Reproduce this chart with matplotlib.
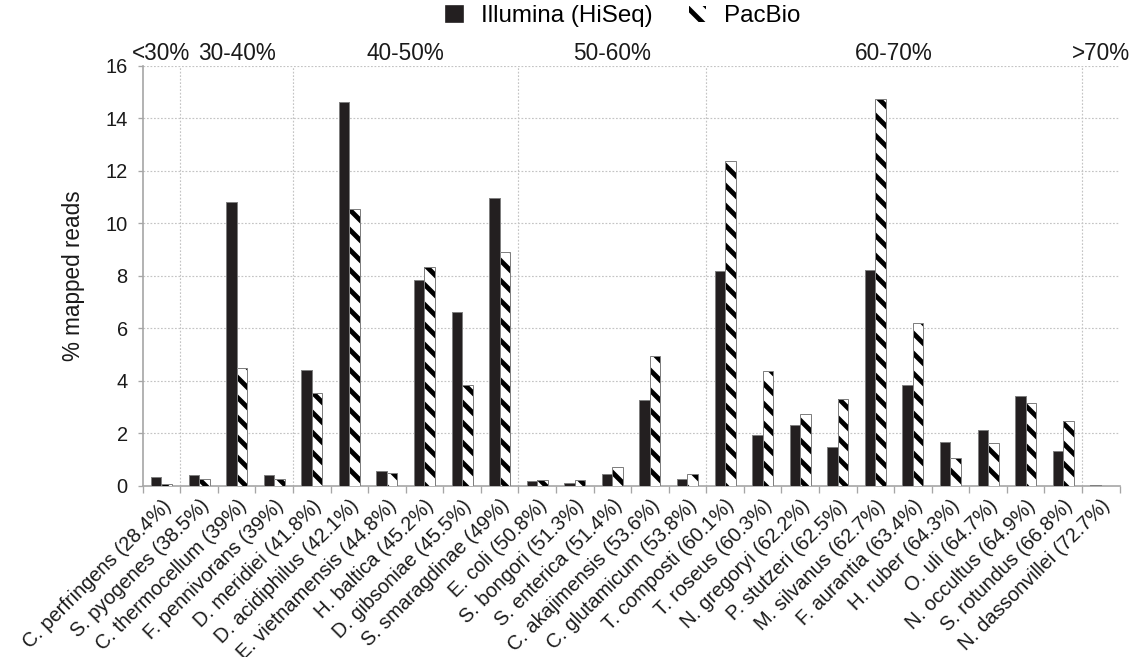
import numpy as np
import matplotlib
matplotlib.use("Agg")
import matplotlib.pyplot as plt
from matplotlib.patches import Patch

plt.rcParams['font.family'] = ['Liberation Sans', 'DejaVu Sans']
plt.rcParams['hatch.linewidth'] = 2.9

species = ["C. perfringens (28.4%)", "S. pyogenes (38.5%)", "C. thermocellum (39%)",
           "F. pennivorans (39%)", "D. meridiei (41.8%)", "D. acidiphilus (42.1%)",
           "E. vietnamensis (44.8%)", "H. baltica (45.2%)", "D. gibsoniae (45.5%)",
           "S. smaragdinae (49%)", "E. coli (50.8%)", "S. bongori (51.3%)",
           "S. enterica (51.4%)", "C. akajimensis (53.6%)", "C. glutamicum (53.8%)",
           "T. composti (60.1%)", "T. roseus (60.3%)", "N. gregoryi (62.2%)",
           "P. stutzeri (62.5%)", "M. silvanus (62.7%)", "F. aurantia (63.4%)",
           "H. ruber (64.3%)", "O. uli (64.7%)", "N. occultus (64.9%)",
           "S. rotundus (66.8%)", "N. dassonvillei (72.7%)"]
illumina = [0.35, 0.41, 10.83, 0.41, 4.41, 14.61, 0.56, 7.86, 6.64, 10.98,
            0.18, 0.13, 0.47, 3.27, 0.28, 8.18, 1.96, 2.34, 1.48, 8.24,
            3.85, 1.67, 2.15, 3.41, 1.33, 0.02]
pacbio = [0.09, 0.28, 4.49, 0.28, 3.55, 10.57, 0.51, 8.34, 3.85, 8.92,
          0.24, 0.24, 0.72, 4.97, 0.47, 12.37, 4.38, 2.75, 3.32, 14.76,
          6.21, 1.05, 1.63, 3.18, 2.46, 0.01]
gc_groups = ["<30%", "30-40%", "40-50%", "50-60%", "60-70%", ">70%"]
group_sizes = [1, 3, 6, 5, 10, 1]

dark = '#231f20'
grey = '#a6a6a6'
txt = '#1a1a1a'

fig = plt.figure(figsize=(1146 / 120, 657 / 120), dpi=120)
ax = fig.add_axes([0.1245, 0.2603, 0.8524, 0.6393])

x = np.arange(len(species))
w = 0.28
ax.bar(x - w / 2, illumina, w, color=dark, edgecolor='#7f7f7f', linewidth=0.6, zorder=3)
# hatch drawn in black, outline in grey on top
ax.bar(x + w / 2, pacbio, w, color='white', edgecolor='black', hatch='\\\\',
       linewidth=0, zorder=3)
ax.bar(x + w / 2, pacbio, w, fill=False, edgecolor='#7f7f7f', linewidth=0.6, zorder=4)

ax.set_xlim(-0.5, len(species) - 0.5)
ax.set_ylim(0, 16)
ax.set_yticks(np.arange(0, 17, 2))
ax.yaxis.grid(True, linestyle=(0, (1.5, 1.5)), color='#c4c4c4', linewidth=0.7, zorder=0)

# group separators
bounds = np.cumsum(group_sizes) - 0.5
for b in bounds[:-1]:
    ax.axvline(b, linestyle=(0, (1.5, 1.5)), color='#c4c4c4', linewidth=0.7, zorder=0)

starts = np.concatenate([[-0.5], bounds[:-1]])
for lab, s, e in zip(gc_groups, starts, bounds):
    ax.text((s + e) / 2, 1.014, lab, transform=ax.get_xaxis_transform(),
            ha='center', va='baseline', fontsize=13.5, color=txt)

ax.set_xticks(x)
ax.set_xticklabels(species, rotation=45, ha='right', rotation_mode='anchor',
                   fontsize=12, color=txt)
ax.tick_params(axis='x', length=0, pad=6)
ax.set_xticks(np.arange(-0.5, len(species)), minor=True)
ax.tick_params(axis='x', which='minor', length=4, color=grey, width=0.8)
ax.tick_params(axis='y', length=3, color=grey, width=0.8, labelsize=12,
               labelcolor=txt, pad=6)

for s in ['top', 'right']:
    ax.spines[s].set_visible(False)
for s in ['left', 'bottom']:
    ax.spines[s].set_color(grey)
    ax.spines[s].set_linewidth(1.0)

ax.set_ylabel("% mapped reads", fontsize=13.5, color=txt, labelpad=12)

handles = [Patch(facecolor=dark, edgecolor=dark, label='Illumina (HiSeq)'),
           Patch(facecolor='white', edgecolor='black', hatch='\\\\', linewidth=0,
                 label='PacBio')]
fig.legend(handles=handles, loc='center', bbox_to_anchor=(0.544, 0.975), ncol=2,
           frameon=False, fontsize=14.5, handlelength=0.7, handleheight=0.7,
           handletextpad=0.75, columnspacing=1.5)

fig.savefig("out.png", dpi=120)
